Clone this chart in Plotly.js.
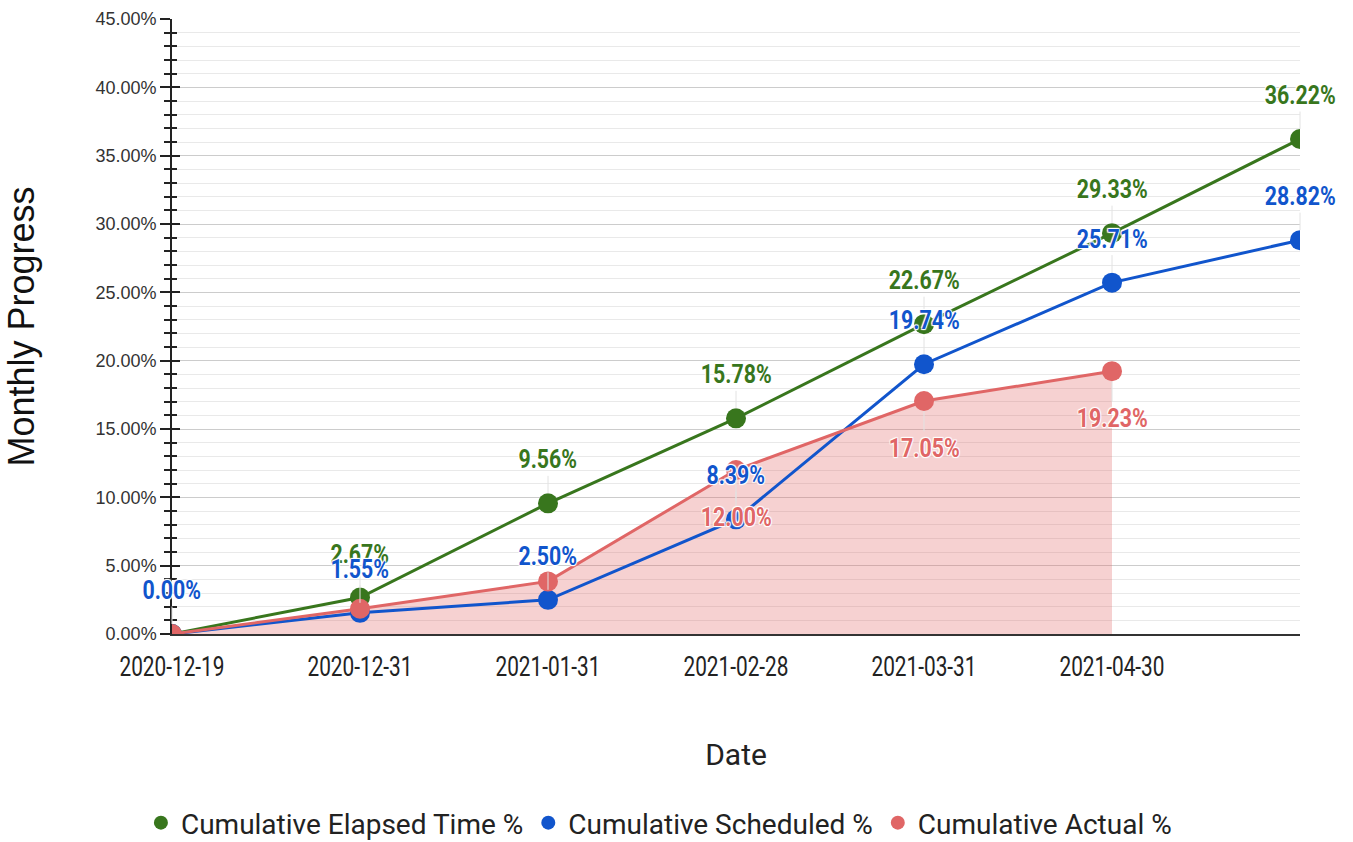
<!DOCTYPE html>
<html>
<head>
<meta charset="utf-8">
<script src="https://cdn.plot.ly/plotly-3.0.1.min.js"></script>
<style>
  html, body { margin: 0; padding: 0; background: #fff; }
  #chart { width: 1353px; height: 842px; }
</style>
</head>
<body>
<div id="chart"></div>
<script>
// ---- data ----
const dates = ['2020-12-19', '2020-12-31', '2021-01-31', '2021-02-28', '2021-03-31', '2021-04-30', '2021-05-31'];
const tickDates = ['2020-12-19', '2020-12-31', '2021-01-31', '2021-02-28', '2021-03-31', '2021-04-30'];
const elapsed = [0.00, 2.67, 9.56, 15.78, 22.67, 29.33, 36.22];
const scheduled = [0.00, 1.55, 2.50, 8.39, 19.74, 25.71, 28.82];
const actual = [0.00, 1.85, 3.85, 12.00, 17.05, 19.23];
const elapsedLabelShown = [false, true, true, true, true, true, true];
const scheduledLabelShown = [true, true, true, true, true, true, true];
const actualLabelShown = [false, false, false, true, true, true];
const seriesNames = ['Cumulative Elapsed Time %', 'Cumulative Scheduled %', 'Cumulative Actual %'];
const yTickVals = [0, 5, 10, 15, 20, 25, 30, 35, 40, 45];
const yTickLabels = ['0.00%', '5.00%', '10.00%', '15.00%', '20.00%', '25.00%', '30.00%', '35.00%', '40.00%', '45.00%'];

// ---- styling ----
const GREEN = '#38761d', BLUE = '#1155cc', RED = '#e06666';
const OUTLINE = 'white 1px 1px 1px, white -1px -1px 1px, white 1px -1px 1px, white -1px 1px 1px, white 0 0 2px';

function lineTrace(y, name, color) {
  return {
    type: 'scatter', mode: 'lines+markers',
    x: dates.slice(0, y.length), y: y, name: name,
    line: { color: color, width: 3 },
    marker: { color: color, size: 20 },
    showlegend: false, hoverinfo: 'x+y'
  };
}
function legendTrace(name, color) {
  return {
    type: 'scatter', mode: 'markers', x: [null], y: [null], name: name,
    marker: { color: color, size: 14 }, showlegend: true
  };
}

const traces = [
  // area under the actual series, drawn beneath all lines
  { type: 'scatter', mode: 'none', x: dates.slice(0, actual.length), y: actual,
    fill: 'tozeroy', fillcolor: 'rgba(224,102,102,0.3)', showlegend: false, hoverinfo: 'skip' },
  lineTrace(elapsed, seriesNames[0], GREEN),
  lineTrace(scheduled, seriesNames[1], BLUE),
  lineTrace(actual, seriesNames[2], RED),
  legendTrace(seriesNames[0], GREEN),
  legendTrace(seriesNames[1], BLUE),
  legendTrace(seriesNames[2], RED),
  // overlay axis to draw the inner half of the y ticks
  { type: 'scatter', x: [null], y: [null], yaxis: 'y2', showlegend: false, hoverinfo: 'skip' }
];

const annotations = [];
function addLabels(vals, shown, color, offset) {
  vals.forEach((v, i) => {
    if (!shown[i]) return;
    annotations.push({
      x: dates[i], y: v, xref: 'x', yref: 'y',
      text: v.toFixed(2) + '%',
      showarrow: true, arrowhead: 0, arrowwidth: 1, arrowcolor: '#e2e2e2',
      ax: 0, ay: offset, standoff: 10,
      font: { family: 'Roboto, sans-serif', size: 26, color: color, weight: 'bold', shadow: OUTLINE }
    });
  });
}
addLabels(elapsed, elapsedLabelShown, GREEN, -44);
addLabels(scheduled, scheduledLabelShown, BLUE, -44);
addLabels(actual, actualLabelShown, RED, 47);

const layout = {
  width: 1353, height: 842,
  margin: { l: 172, r: 53, t: 19, b: 208, autoexpand: false },
  paper_bgcolor: '#fff', plot_bgcolor: '#fff',
  showlegend: true,
  legend: {
    orientation: 'h', xref: 'container', yref: 'container',
    x: 0.487, xanchor: 'center', y: 0.0226, yanchor: 'middle',
    font: { family: 'Roboto, sans-serif', size: 28, color: '#222' },
    itemwidth: 30
  },
  xaxis: {
    type: 'category', categoryorder: 'array', categoryarray: dates,
    range: [0, 6], tickvals: tickDates, ticktext: tickDates,
    automargin: false,
    showgrid: false, zeroline: false,
    showline: true, linecolor: '#333', linewidth: 1.5,
    ticks: '', ticklabelstandoff: 8,
    tickfont: { family: 'Roboto, sans-serif', size: 27, color: '#222' },
    title: { text: 'Date', font: { family: 'Roboto, sans-serif', size: 30, color: '#222' }, standoff: 62 }
  },
  yaxis: {
    range: [0, 45], tickvals: yTickVals, ticktext: yTickLabels,
    automargin: false,
    showgrid: true, gridcolor: '#cccccc', gridwidth: 1,
    zeroline: false, showline: true, linecolor: '#222', linewidth: 1.5,
    ticks: 'outside', ticklen: 10, tickcolor: '#222', tickwidth: 1.5,
    tickfont: { family: '"Liberation Sans", Arial, sans-serif', size: 18, color: '#333' },
    minor: { dtick: 1, showgrid: true, gridcolor: '#e9e9e9', gridwidth: 1, ticks: 'outside', ticklen: 6, tickcolor: '#222', tickwidth: 1.5 },
    title: { text: 'Monthly Progress', font: { family: '"Liberation Sans", Arial, sans-serif', size: 36, color: '#111' }, standoff: 50 }
  },
  yaxis2: {
    overlaying: 'y', side: 'left', range: [0, 45], tickvals: yTickVals,
    automargin: false,
    showticklabels: false, showgrid: false, zeroline: false, showline: false,
    ticks: 'inside', ticklen: 8, tickcolor: '#222', tickwidth: 1.5,
    minor: { dtick: 1, ticks: 'inside', ticklen: 5, tickcolor: '#222', tickwidth: 1.5, showgrid: false }
  },
  annotations: annotations
};

function condense(selector, factor) {
  document.querySelectorAll(selector).forEach(t => {
    const w = t.getComputedTextLength();
    if (w > 0) {
      t.setAttribute('textLength', (w * factor).toFixed(1));
      t.setAttribute('lengthAdjust', 'spacingAndGlyphs');
    }
  });
}

Plotly.newPlot('chart', traces, layout, { displayModeBar: false, responsive: false }).then(() => {
  condense('#chart .annotation-text', 0.82);
  condense('#chart .xtick text', 0.77);
});
</script>
</body>
</html>
